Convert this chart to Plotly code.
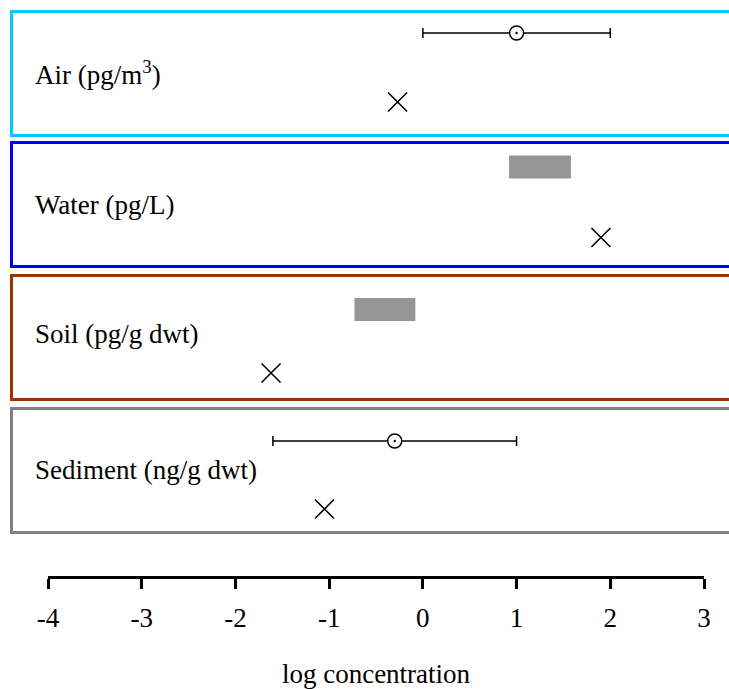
import plotly.graph_objects as go

# ---------------- data ----------------
media = ["Air (pg/m<sup>3</sup>)", "Water (pg/L)", "Soil (pg/g dwt)", "Sediment (ng/g dwt)"]
panel_colors = ["#00CCFF", "#0000FF", "#993300", "#808080"]

# measured (circle + range), by medium index
meas_idx = [0, 3]
meas_mean = [1.0, -0.30]
meas_lo = [0.0, -1.60]
meas_hi = [2.0, 1.00]

# range bars (grey boxes)
bar_idx = [1, 2]
bar_lo = [0.92, -0.73]
bar_hi = [1.58, -0.08]

# model predictions (crosses), one per medium
pred_vals = [-0.27, 1.90, -1.62, -1.05]

tick_vals = [-4, -3, -2, -1, 0, 1, 2, 3]
tick_text = ["-4", "-3", "-2", "-1", "0", "1", "2", "3"]

# ---------------- layout constants (pixel-like y axis) ----------------
W, H = 729, 689
panel_top = [11.5, 142.5, 275.5, 408.5]
panel_h = 124
label_y = [73, 205, 334, 470]
upper_y = [33, 167, 309.5, 441]
lower_y = [102, 237.5, 373, 509]
x_px_m4, x_px_p3 = 48, 704
k = (x_px_p3 - x_px_m4) / 7.0
xr = [-4 - x_px_m4 / k, 3 + (W - x_px_p3) / k]
axis_y = 576.5
FONT = "Liberation Serif"

fig = go.Figure()

# grey boxes
fig.add_trace(go.Bar(
    orientation="h",
    base=bar_lo,
    x=[h - l for l, h in zip(bar_lo, bar_hi)],
    y=[upper_y[i] for i in bar_idx],
    width=23,
    marker=dict(color="#969696", line=dict(width=0)),
    hoverinfo="skip", showlegend=False,
))

# circles with ranges
fig.add_trace(go.Scatter(
    x=meas_mean,
    y=[upper_y[i] for i in meas_idx],
    mode="markers",
    marker=dict(symbol="circle-dot", size=14, color="white",
                line=dict(color="black", width=1.5)),
    error_x=dict(type="data", symmetric=False,
                 array=[h - m for m, h in zip(meas_mean, meas_hi)],
                 arrayminus=[m - l for m, l in zip(meas_mean, meas_lo)],
                 color="black", thickness=1.5, width=5),
    hoverinfo="skip", showlegend=False,
))

# crosses
fig.add_trace(go.Scatter(
    x=pred_vals,
    y=lower_y,
    mode="markers",
    marker=dict(symbol="x-thin", size=19, color="black",
                line=dict(color="black", width=1.6)),
    hoverinfo="skip", showlegend=False,
))

# helper trace for the visible tick axis
fig.add_trace(go.Scatter(
    x=[tick_vals[0], tick_vals[-1]], y=[-1000, -1000],
    xaxis="x2", yaxis="y", mode="markers",
    marker=dict(size=1, color="rgba(0,0,0,0)"),
    hoverinfo="skip", showlegend=False,
))

shapes = []
for i, c in enumerate(panel_colors):
    shapes.append(dict(
        type="rect", xref="paper", yref="y",
        x0=11.5 / W, x1=1.05,
        y0=panel_top[i], y1=panel_top[i] + panel_h,
        line=dict(color=c, width=3), fillcolor="rgba(0,0,0,0)",
        layer="below",
    ))

annotations = []
for i, name in enumerate(media):
    annotations.append(dict(
        text=name, xref="paper", yref="y", x=33 / W, y=label_y[i],
        xanchor="left", yanchor="middle", showarrow=False,
        font=dict(family=FONT, size=27, color="black"),
    ))

fig.update_layout(
    width=W, height=H,
    margin=dict(l=0, r=0, t=0, b=0, autoexpand=False),
    paper_bgcolor="white", plot_bgcolor="rgba(0,0,0,0)",
    font=dict(family=FONT, size=27, color="black"),
    showlegend=False,
    shapes=shapes,
    annotations=annotations,
    xaxis=dict(range=xr, visible=False, domain=[0, 1], automargin=False),
    yaxis=dict(range=[H, 0], visible=False, domain=[0, 1], automargin=False),
    xaxis2=dict(
        domain=[x_px_m4 / W, x_px_p3 / W],
        range=[tick_vals[0], tick_vals[-1]],
        anchor="free", position=1 - axis_y / H,
        automargin=False,
        showline=True, linecolor="black", linewidth=3,
        ticks="outside", ticklen=10, tickwidth=3, tickcolor="black",
        tickvals=tick_vals, ticktext=tick_text,
        ticklabelstandoff=6,
        tickfont=dict(family=FONT, size=27, color="black"),
        showgrid=False, zeroline=False,
        title=dict(text="log concentration", standoff=36,
                   font=dict(family=FONT, size=27, color="black")),
    ),
)

fig.write_html("out.html")
